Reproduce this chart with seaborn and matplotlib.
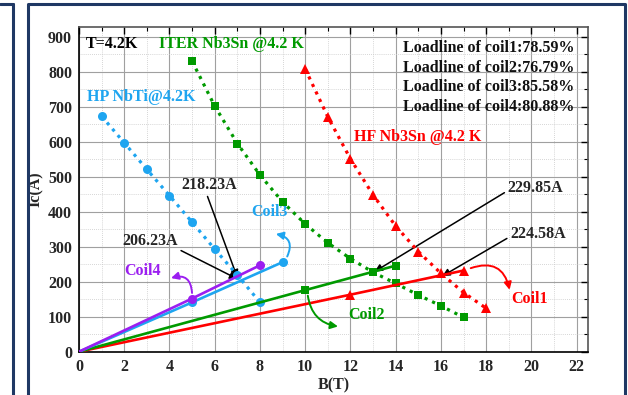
import numpy as np
import pandas as pd
import matplotlib
matplotlib.use("Agg")
import matplotlib.pyplot as plt
import seaborn as sns
from matplotlib.patches import FancyArrowPatch
from matplotlib.lines import Line2D
from matplotlib.ticker import MultipleLocator

# ---- data ----
nbti_B = [1, 2, 3, 4, 5, 6, 7, 8]
nbti_Ic = [673, 597, 521, 446, 370, 293, 219, 141]

iter_B = [5, 6, 7, 8, 9, 10, 11, 12, 13, 14, 15, 16, 17]
iter_Ic = [830, 702, 595, 505, 428, 365, 311, 266, 227, 195, 162, 131, 98]

hf_B = [10, 11, 12, 13, 14, 15, 16, 17, 18]
hf_Ic = [808, 671, 551, 448, 359, 286, 224, 169, 124]

coil1_B = [0, 12, 17]
coil1_I = [0, 163, 232]
coil2_B = [0, 10, 14]
coil2_I = [0, 176, 246]
coil3_B = [0, 5, 9]
coil3_I = [0, 141, 256]
coil4_B = [0, 5, 8]
coil4_I = [0, 152, 247]

loadline_texts = ["Loadline of coil1:78.59%", "Loadline of coil2:76.79%",
                  "Loadline of coil3:85.58%", "Loadline of coil4:80.88%"]

BLUE = "#1EA5F0"
GREEN = "#009A00"
RED = "#FF0000"
PURPLE = "#9B1EF0"
NAVY = "#1F3864"
FS = 11.5

sns.set_theme(style="white")
plt.rcParams['font.family'] = ['Liberation Serif', 'DejaVu Serif']
plt.rcParams['font.weight'] = 'bold'

fig = plt.figure(figsize=(6.28, 3.95), dpi=100)
ax = fig.add_axes([79/628, 1-351.7/395, (588-79)/628, (351.7-27)/395])

# dotted critical-current curves
dot = (0, (1, 1.6))
sns.lineplot(x=nbti_B, y=nbti_Ic, ax=ax, color=BLUE, linestyle=dot, lw=2.3,
             marker='o', markersize=6.5, markeredgewidth=0, zorder=4)
sns.lineplot(x=iter_B, y=iter_Ic, ax=ax, color=GREEN, linestyle=dot, lw=2.3,
             marker='s', markersize=6, markeredgewidth=0, zorder=4)
sns.lineplot(x=hf_B, y=hf_Ic, ax=ax, color=RED, linestyle=dot, lw=2.3,
             marker='^', markersize=7, markeredgewidth=0, zorder=4)

# solid load lines
for xs, ys, c, m, ms in [(coil1_B, coil1_I, RED, '^', 7), (coil2_B, coil2_I, GREEN, 's', 6),
                         (coil3_B, coil3_I, BLUE, 'o', 6.5), (coil4_B, coil4_I, PURPLE, 'o', 6.5)]:
    sns.lineplot(x=xs, y=ys, ax=ax, color=c, lw=1.9, marker=m, markersize=ms,
                 markeredgewidth=0, markevery=list(range(1, len(xs))), zorder=5)

ax.set_xlim(0, 22.5)
ax.set_ylim(0, 928)
ax.xaxis.set_major_locator(MultipleLocator(2))
ax.xaxis.set_minor_locator(MultipleLocator(1))
ax.yaxis.set_major_locator(MultipleLocator(100))
ax.yaxis.set_minor_locator(MultipleLocator(50))
ax.grid(True, which='major', color='#A0A0A0', lw=0.8, ls='-')
ax.grid(True, which='minor', color='#C8C8C8', lw=0.6, ls=(0, (1, 1.5)))
ax.set_axisbelow(True)
ax.tick_params(which='major', direction='in', length=5, width=1, top=True, right=True,
               labelsize=FS, pad=5, color='black')
ax.tick_params(which='minor', direction='in', length=3, width=0.8, top=True, right=True, color='black')
for lab in ax.get_xticklabels() + ax.get_yticklabels():
    lab.set_fontweight('bold')
for sp in ax.spines.values():
    sp.set_color('black')
    sp.set_linewidth(1.2)
ax.spines['top'].set_color('#555555')
ax.spines['right'].set_color('#555555')

ax.set_xlabel("B(T)", fontsize=FS, fontweight='bold', labelpad=2)
ax.set_ylabel("Ic(A)", fontsize=FS, fontweight='bold', labelpad=3)

# text labels
ax.text(0.3, 880, "T=4.2K", fontsize=FS, fontweight='bold', color='black', va='center')
ax.text(3.55, 880, "ITER Nb3Sn @4.2 K", fontsize=FS, fontweight='bold', color=GREEN, va='center')
ax.text(0.35, 728, "HP NbTi@4.2K", fontsize=FS, fontweight='bold', color=BLUE, va='center')
ax.text(12.15, 613, "HF Nb3Sn @4.2 K", fontsize=FS, fontweight='bold', color=RED, va='center')
for t, yv in zip(loadline_texts, [868, 811, 756, 699]):
    ax.text(21.9, yv, t, fontsize=FS, fontweight='bold', color='#111111', ha='right', va='center')

# straight annotation arrows
arr = dict(arrowstyle='-|>', color='black', lw=1.1, mutation_scale=11, shrinkA=0, shrinkB=0)
ax.annotate("218.23A", xy=(7.0, 212), xytext=(5.75, 476), fontsize=FS, fontweight='bold',
            ha='center', va='center', arrowprops=dict(arr, relpos=(0.45, 0)))
ax.annotate("206.23A", xy=(7.0, 208), xytext=(3.14, 316), fontsize=FS, fontweight='bold',
            ha='center', va='center', arrowprops=dict(arr, relpos=(0.95, 0.1)))
ax.annotate("229.85A", xy=(13.07, 229), xytext=(18.95, 467), fontsize=FS, fontweight='bold',
            ha='left', va='center', arrowprops=dict(arr, relpos=(0, 0.35)))
ax.annotate("224.58A", xy=(16.06, 216), xytext=(19.06, 336), fontsize=FS, fontweight='bold',
            ha='left', va='center', arrowprops=dict(arr, relpos=(0, 0.35)))

# curved coil arrows and labels
def carrow(p0, p1, rad, color):
    a = FancyArrowPatch(p0, p1, connectionstyle=f"arc3,rad={rad}", arrowstyle='-|>',
                        mutation_scale=11, color=color, lw=1.4, zorder=6)
    ax.add_patch(a)

carrow((5.0, 160), (3.95, 208), 0.7, PURPLE)
ax.text(2.8, 230, "Coil4", fontsize=FS, fontweight='bold', color=PURPLE, ha='center', va='center')
carrow((9.15, 265), (8.58, 338), 0.7, BLUE)
ax.text(8.44, 399, "Coil3", fontsize=FS, fontweight='bold', color=BLUE, ha='center', va='center')
carrow((10.1, 168), (11.57, 71), 0.4, GREEN)
ax.text(12.7, 105, "Coil2", fontsize=FS, fontweight='bold', color=GREEN, ha='center', va='center')
carrow((17.2, 236), (19.06, 169), -0.6, RED)
ax.text(19.9, 150, "Coil1", fontsize=FS, fontweight='bold', color=RED, ha='center', va='center')

# page frames
W, H = 628, 395
fig.add_artist(Line2D([0, 13/W], [1-4/H, 1-4/H], color=NAVY, lw=2.2, transform=fig.transFigure))
fig.add_artist(Line2D([13/W, 13/W], [1-4/H, 0], color=NAVY, lw=2.2, transform=fig.transFigure))
fig.add_artist(Line2D([28/W, 28/W, 625/W, 625/W], [0, 1-4/H, 1-4/H, 0], color=NAVY, lw=2.2,
                      transform=fig.transFigure))

fig.savefig("out.png", dpi=100)
